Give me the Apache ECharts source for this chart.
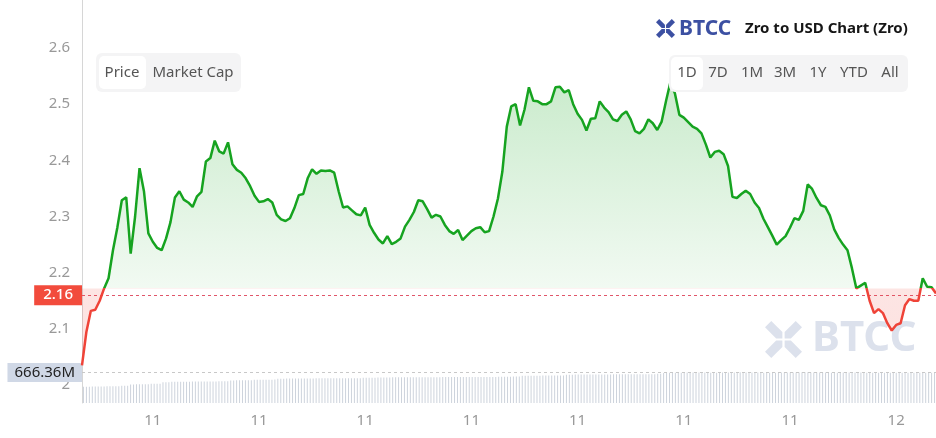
<!DOCTYPE html>
<html lang="en">
<head>
    <meta charset="UTF-8">
    <title>Zro to USD Chart (Zro)</title>
    <script src="https://cdn.jsdelivr.net/npm/echarts@6/dist/echarts.min.js"></script>
    <style>
        html, body { margin: 0; padding: 0; background: #fff; }
        #main { width: 936px; height: 438px; }
    </style>
</head>
<body>
<div id="main"></div>
<script>
    // price, one point every 7.5 min over the day
    var price = [
        2.035, 2.095, 2.132, 2.134, 2.150, 2.172, 2.190, 2.240, 2.281, 2.329,
        2.334, 2.234, 2.300, 2.386, 2.345, 2.270, 2.255, 2.244, 2.240, 2.261,
        2.290, 2.334, 2.345, 2.330, 2.325, 2.317, 2.336, 2.344, 2.398, 2.404,
        2.435, 2.416, 2.412, 2.432, 2.393, 2.383, 2.378, 2.368, 2.354, 2.337,
        2.326, 2.327, 2.331, 2.325, 2.303, 2.295, 2.292, 2.297, 2.315, 2.338,
        2.340, 2.368, 2.384, 2.376, 2.382, 2.381, 2.382, 2.378, 2.345, 2.316,
        2.318, 2.311, 2.304, 2.302, 2.316, 2.285, 2.271, 2.259, 2.252, 2.265,
        2.251, 2.255, 2.261, 2.282, 2.294, 2.308, 2.329, 2.327, 2.313, 2.298,
        2.303, 2.300, 2.285, 2.274, 2.269, 2.276, 2.258, 2.266, 2.274, 2.279,
        2.281, 2.272, 2.274, 2.300, 2.332, 2.380, 2.460, 2.496, 2.500, 2.462,
        2.490, 2.530, 2.506, 2.505, 2.500, 2.500, 2.505, 2.530, 2.531, 2.521,
        2.525, 2.500, 2.483, 2.472, 2.453, 2.474, 2.475, 2.505, 2.494, 2.486,
        2.473, 2.470, 2.481, 2.487, 2.473, 2.452, 2.448, 2.456, 2.473, 2.466,
        2.454, 2.469, 2.506, 2.540, 2.519, 2.481, 2.476, 2.468, 2.460, 2.456,
        2.448, 2.428, 2.405, 2.415, 2.417, 2.411, 2.390, 2.335, 2.333, 2.340,
        2.346, 2.340, 2.325, 2.315, 2.296, 2.281, 2.266, 2.250, 2.258, 2.265,
        2.280, 2.297, 2.294, 2.310, 2.357, 2.349, 2.333, 2.320, 2.317, 2.302,
        2.277, 2.262, 2.250, 2.240, 2.208, 2.172, 2.177, 2.182, 2.150, 2.128,
        2.135, 2.128, 2.110, 2.097, 2.107, 2.110, 2.142, 2.153, 2.150, 2.150,
        2.190, 2.175, 2.174, 2.163
    ];

    // market cap bars (M), 5 min each
    var marketCap = [
        617, 617, 617, 618, 618, 618, 618, 618, 619, 619, 619, 619, 619, 620, 620, 620,
        625, 625, 626, 626, 626, 626, 626, 627, 627, 627, 627,
        633, 633, 633, 634, 634, 634, 634, 634, 634, 634, 635, 635, 635, 635, 635, 635, 635, 635, 635, 636, 636, 636, 636,
        639, 639, 640, 640, 640, 640, 640, 640, 641, 641, 641, 641, 641, 641, 641, 642,
        645, 645, 645, 646, 646, 646, 646, 646, 646, 646, 646, 646, 646, 647, 647, 647, 647, 647, 647, 647, 647, 647, 647, 647, 647, 647, 647, 647, 647, 648, 648, 648, 648, 648,
        649, 649, 649, 649, 649, 650, 650, 650, 650, 650, 650, 650, 650, 650, 650, 650, 650, 650, 650, 650, 650, 650, 651, 651, 651, 651, 651, 651, 651, 651, 651, 651, 651, 651, 651, 651, 651, 651, 651, 651, 651, 652,
        652, 652, 652, 652, 653, 653, 653,
        655, 655, 655, 655, 655, 655, 655, 656, 656, 656, 656, 656, 656, 656, 656,
        659, 659, 659, 660, 660, 660, 660, 660, 660, 660, 660, 660, 660, 660, 660, 660, 661, 661, 661, 661, 661, 661, 661, 661, 661, 661, 661, 661, 661, 661, 661, 662, 662,
        665, 665, 666, 666, 666, 666, 666, 666, 667, 667, 667, 667, 667, 667, 667, 667, 666, 666, 666, 666, 667, 667, 667, 667, 667, 667, 668, 668,
        667, 667, 667, 667, 667, 667, 666, 666, 666, 666, 666, 667, 667, 667, 667, 667, 667, 667, 667, 668, 668, 668, 667, 667, 667, 667, 667, 667,
        666, 666, 666, 666, 666, 667, 667, 667, 667, 667, 667, 667, 666, 666, 666, 666, 666, 666, 666, 666, 666, 666, 666, 666, 666, 666, 666, 666,
        666, 666, 666, 666, 666, 666, 666, 666, 666.36
    ];

    var priceTicks = [2.0, 2.1, 2.2, 2.3, 2.4, 2.5, 2.6];
    var ranges = ['1D', '7D', '1M', '3M', '1Y', 'YTD', 'All'];
    var OPEN = 2.172;   // line turns red below this

    // time categories: 01:00 on the 11th, 7.5 minutes apart
    var times = [];
    var t0 = new Date(2024, 5, 11, 1, 0).getTime();
    for (var i = 0; i < price.length; i++) {
        var d = new Date(t0 + i * 7.5 * 60000);
        times.push(d.getDate() + ' ' + ('0' + d.getHours()).slice(-2) + ':' + ('0' + d.getMinutes()).slice(-2));
    }

    var FONT = '"Noto Sans", sans-serif';
    var GREEN = '#16a320';
    var RED = '#ef4338';

    function logo(x0, y0, s, color, z) {
        var arm = [[0, 0.17], [0.17, 0], [0.47, 0.3], [0.47, 0.47], [0.3, 0.47]];
        var flips = [[0, 0], [1, 0], [0, 1], [1, 1]];
        return flips.map(function (f) {
            return {
                type: 'polygon', z: z, silent: true,
                shape: {
                    points: arm.map(function (p) {
                        var px = f[0] ? 1 - p[0] : p[0];
                        var py = f[1] ? 1 - p[1] : p[1];
                        return [x0 + px * s, y0 + py * s];
                    })
                },
                style: {fill: color}
            };
        });
    }

    var graphics = [];
    // watermark
    graphics = graphics.concat(logo(765, 321, 37, '#dce1ec', 1));
    graphics.push({
        type: 'text', z: 1, silent: true,
        style: {text: 'BTCC', x: 812, y: 339, fill: '#dce1ec', font: 'bold 42px ' + FONT, textVerticalAlign: 'middle'}
    });
    // header
    graphics = graphics.concat(logo(656, 19, 19, '#3c50a2', 100));
    graphics.push({
        type: 'text', z: 100,
        style: {text: 'BTCC', x: 679, y: 29, fill: '#3c50a2', font: 'bold 21px ' + FONT, textVerticalAlign: 'middle'}
    });
    graphics.push({
        type: 'text', z: 100,
        style: {text: 'Zro to USD Chart (Zro)', x: 745, y: 29, fill: '#161616', font: 'bold 15px ' + FONT, textVerticalAlign: 'middle'}
    });
    // price / market cap switch
    graphics.push({type: 'rect', z: 100, shape: {x: 96, y: 53, width: 145, height: 39, r: 6}, style: {fill: '#f4f4f5'}});
    graphics.push({type: 'rect', z: 100, shape: {x: 99, y: 56, width: 47, height: 33, r: 5}, style: {fill: '#fff'}});
    graphics.push({type: 'text', z: 101, style: {text: 'Price', x: 122, y: 73, fill: '#555', font: '15px ' + FONT, textAlign: 'center', textVerticalAlign: 'middle'}});
    graphics.push({type: 'text', z: 101, style: {text: 'Market Cap', x: 193, y: 73, fill: '#555', font: '15px ' + FONT, textAlign: 'center', textVerticalAlign: 'middle'}});
    // range buttons
    graphics.push({type: 'rect', z: 100, shape: {x: 669, y: 55, width: 239, height: 37, r: 6}, style: {fill: '#f4f4f5'}});
    graphics.push({type: 'rect', z: 100, shape: {x: 671, y: 57, width: 32, height: 33, r: 5}, style: {fill: '#fff'}});
    var rangeX = [687, 718, 752, 785, 818, 854, 890];
    ranges.forEach(function (r, k) {
        graphics.push({type: 'text', z: 101, style: {text: r, x: rangeX[k], y: 73, fill: '#555', font: '15px ' + FONT, textAlign: 'center', textVerticalAlign: 'middle'}});
    });

    var option = {
        animation: false,
        backgroundColor: '#fff',
        textStyle: {fontFamily: FONT},
        grid: {left: 82, right: 0, top: 0, bottom: 35},
        xAxis: [{
            type: 'category',
            data: times,
            boundaryGap: false,
            axisLine: {show: false},
            axisTick: {show: false},
            axisLabel: {
                interval: function (index) { return index % 24 === 16; },
                formatter: function (v) { return v.split(' ')[0]; },
                color: '#999', fontSize: 15, margin: 10
            },
            splitLine: {show: false}
        }, {
            type: 'category',
            data: marketCap.map(function (v, k) { return k; }),
            show: false
        }],
        yAxis: [{
            type: 'value',
            min: 2.0 - 18 / 561.7,
            max: 2.6 + 48 / 561.7,
            axisLine: {show: true, lineStyle: {color: '#d6d6d6'}},
            axisTick: {show: false},
            splitLine: {show: false},
            axisLabel: {customValues: priceTicks, color: '#999', fontSize: 15, margin: 12}
        }, {
            type: 'value', show: false, min: 560, max: 1970, splitLine: {show: false}
        }],
        series: [{
            type: 'line',
            data: price,
            showSymbol: false,
            symbol: 'none',
            lineStyle: {width: 2.5, color: GREEN},
            itemStyle: {color: GREEN},
            areaStyle: {origin: OPEN, opacity: 1, color: 'rgba(30,170,40,0.1)'},
            z: 5,
            markLine: {
                silent: true,
                symbol: 'none',
                data: [{yAxis: price[price.length - 1]}],
                lineStyle: {type: [3, 3], color: '#e0566a', width: 1},
                label: {
                    position: 'start', distance: 0,
                    formatter: function () { return price[price.length - 1].toFixed(2); },
                    backgroundColor: '#f24b3c', color: '#fff', fontSize: 15, fontWeight: 500,
                    padding: [3, 9, 2, 9]
                }
            }
        }, {
            type: 'bar',
            xAxisIndex: 1,
            yAxisIndex: 1,
            data: marketCap,
            barWidth: 1,
            itemStyle: {color: '#cdd3dc'},
            z: 3,
            markLine: {
                silent: true,
                symbol: 'none',
                data: [{yAxis: marketCap[marketCap.length - 1]}],
                lineStyle: {type: [3, 3], color: '#c8c8c8', width: 1},
                label: {
                    position: 'start', distance: 0,
                    formatter: function () { return marketCap[marketCap.length - 1].toFixed(2) + 'M'; },
                    backgroundColor: '#d0d8e6', color: '#222', fontSize: 15,
                    padding: [2, 7, 2, 7]
                }
            }
        }],
        graphic: graphics
    };

    var myChart = echarts.init(document.getElementById('main'));
    myChart.setOption(option);

    // line and area: green above the open price, red below (hard stop at its pixel row)
    var yTop = myChart.convertToPixel({yAxisIndex: 0}, 2.55);
    var yOpen = myChart.convertToPixel({yAxisIndex: 0}, OPEN);
    var yBot = myChart.convertToPixel({yAxisIndex: 0}, 2.03);
    var cut = (yOpen - yTop) / (yBot - yTop);
    myChart.setOption({
        series: [{
            lineStyle: {
                color: new echarts.graphic.LinearGradient(0, yTop, 0, yBot, [
                    {offset: 0, color: GREEN},
                    {offset: cut, color: GREEN},
                    {offset: cut, color: RED},
                    {offset: 1, color: RED}
                ], true)
            },
            areaStyle: {
                color: new echarts.graphic.LinearGradient(0, yTop, 0, yBot, [
                    {offset: 0, color: 'rgba(30,170,40,0.24)'},
                    {offset: cut, color: 'rgba(30,170,40,0.06)'},
                    {offset: cut, color: 'rgba(240,70,60,0.14)'},
                    {offset: 1, color: 'rgba(240,70,60,0.16)'}
                ], true)
            }
        }]
    });
</script>
</body>
</html>
